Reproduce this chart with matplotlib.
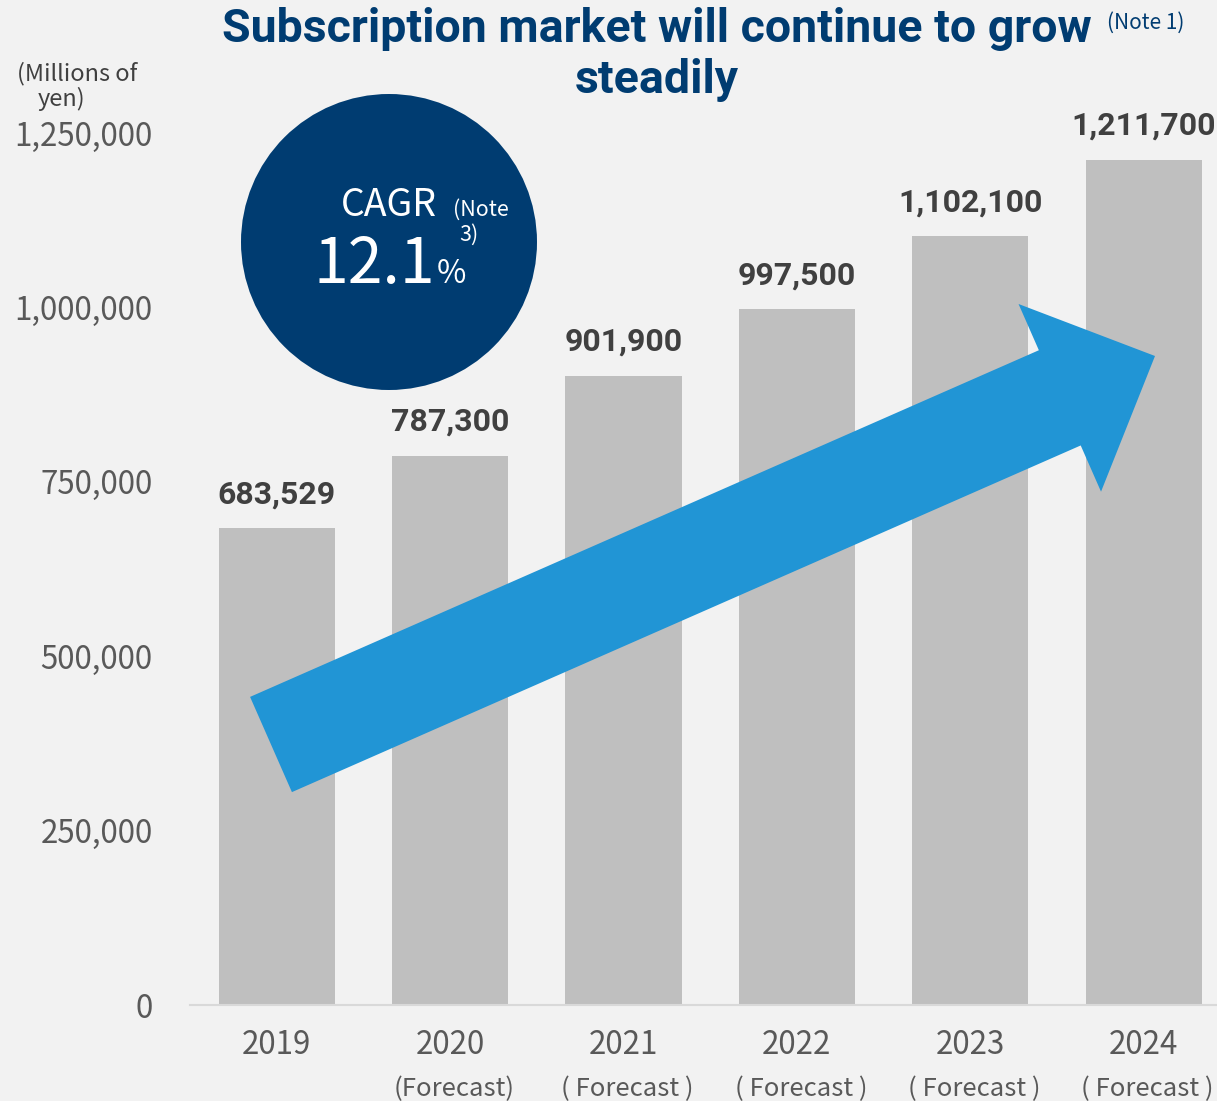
import numpy as np
import matplotlib
matplotlib.use("Agg")
import matplotlib.pyplot as plt
import matplotlib.patches as mpatches

# data
years = ["2019", "2020", "2021", "2022", "2023", "2024"]
forecast_labels = ["", "(Forecast)", "( Forecast )", "( Forecast )", "( Forecast )", "( Forecast )"]
market_size = [683529, 787300, 901900, 997500, 1102100, 1211700]
y_ticks = [0, 250000, 500000, 750000, 1000000, 1250000]

BG = "#F2F2F2"
BAR = "#BFBFBF"
NAVY = "#003C71"
ARROW = "#2195D5"
TICK = "#595959"
VALUE = "#404040"

JP = ["Noto Sans CJK JP", "DejaVu Sans"]
NUM = ["Roboto", "DejaVu Sans"]

W, H = 1217, 1101
fig = plt.figure(figsize=(W / 100, H / 100), dpi=100, facecolor=BG)


def px(x, y):
    # pixel position (from top-left) -> figure fraction
    return x / W, 1 - y / H


# axes run a little past the right edge of the figure
step = 173.4
left, bottom, top = 190, 1005, 133
ax = fig.add_axes([left / W, (H - bottom) / H, 6 * step / W, (bottom - top) / H])
ax.set_facecolor(BG)

x = np.arange(len(years))
ax.bar(x, market_size, width=0.67, color=BAR, zorder=2)
ax.set_xlim(-0.5, 5.5)
ax.set_ylim(0, 1250000)

for s in ["top", "right", "left"]:
    ax.spines[s].set_visible(False)
ax.spines["bottom"].set_color("#D9D9D9")
ax.spines["bottom"].set_linewidth(1.5)

ax.set_yticks(y_ticks)
ax.set_yticklabels([f"{v:,}" for v in y_ticks], family=JP, fontsize=22.5, color=TICK)
ax.tick_params(axis="y", length=0, pad=27)
ax.set_xticks([])

# year and forecast labels under the bars
for i, (yr, fc) in enumerate(zip(years, forecast_labels)):
    ax.annotate(yr, xy=(i, 0), xycoords=("data", "axes fraction"), xytext=(0, -40),
                textcoords="offset pixels", ha="center", va="center",
                family=JP, fontsize=22.5, color=TICK, annotation_clip=False)
    if fc:
        ax.annotate(fc, xy=(i, 0), xycoords=("data", "axes fraction"), xytext=(4, -84),
                    textcoords="offset pixels", ha="center", va="center",
                    family=JP, fontsize=18.5, color=TICK, annotation_clip=False)

# value labels
for i, v in enumerate(market_size):
    ax.annotate(f"{v:,}", xy=(i, v), xytext=(0, 25), textcoords="offset pixels",
                ha="center", va="baseline", family=NUM, fontweight="bold",
                fontsize=23, color=VALUE, annotation_clip=False)

# growth arrow
arrow = mpatches.FancyArrow(2.71, 3.565, 8.84, 3.885, width=1.04, head_width=2.05,
                            head_length=1.04, length_includes_head=True,
                            transform=fig.dpi_scale_trans, color=ARROW, lw=0, zorder=5)
fig.add_artist(arrow)

# CAGR badge
badge = mpatches.Circle((3.89, (H - 242) / 100), 1.48, transform=fig.dpi_scale_trans,
                        color=NAVY, lw=0, zorder=5)
fig.add_artist(badge)
fig.text(*px(389, 216), "CAGR", ha="center", va="baseline", family=JP,
         fontsize=27, color="white", zorder=6)
fig.text(*px(481, 216), "(Note", ha="center", va="baseline", family=JP,
         fontsize=15.5, color="white", zorder=6)
fig.text(*px(469, 241), "3)", ha="center", va="baseline", family=JP,
         fontsize=15.5, color="white", zorder=6)
fig.text(*px(374, 283), "12.1", ha="center", va="baseline", family=JP,
         fontsize=45, color="white", zorder=6)
fig.text(*px(451, 283), "%", ha="center", va="baseline", family=JP,
         fontsize=23, color="white", zorder=6)

# title
fig.text(*px(657, 42), "Subscription market will continue to grow", ha="center",
         va="baseline", family=NUM, fontweight="bold", fontsize=33.5, color=NAVY)
fig.text(*px(657, 93), "steadily", ha="center", va="baseline", family=NUM,
         fontweight="bold", fontsize=33.5, color=NAVY)
fig.text(*px(1146, 29), "(Note 1)", ha="center", va="baseline", family=JP,
         fontsize=15, color=NAVY)

# unit label
fig.text(*px(77, 80), "(Millions of", ha="center", va="baseline", family=JP,
         fontsize=17, color="#404040")
fig.text(*px(62, 106), "yen)", ha="center", va="baseline", family=JP,
         fontsize=17, color="#404040")

fig.savefig("out.png", dpi=100, facecolor=BG)
